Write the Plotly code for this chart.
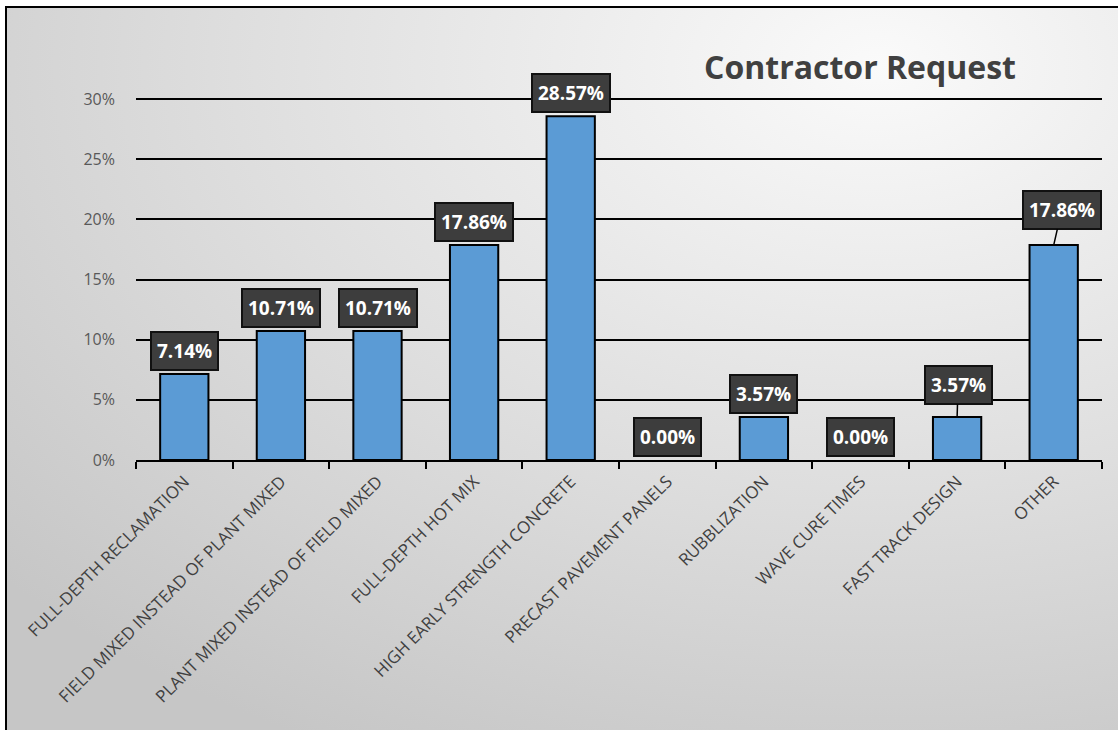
import base64
import plotly.graph_objects as go

categories = [
    'FULL-DEPTH RECLAMATION',
    'FIELD MIXED INSTEAD OF PLANT MIXED',
    'PLANT MIXED INSTEAD OF FIELD MIXED',
    'FULL-DEPTH HOT MIX',
    'HIGH EARLY STRENGTH CONCRETE',
    'PRECAST PAVEMENT PANELS',
    'RUBBLIZATION',
    'WAVE CURE TIMES',
    'FAST TRACK DESIGN',
    'OTHER',
]
shares = [0.0714, 0.1071, 0.1071, 0.1786, 0.2857, 0.0, 0.0357, 0.0, 0.0357, 0.1786]
y_ticks = [0, 0.05, 0.1, 0.15, 0.2, 0.25, 0.3]
title_text = 'Contractor Request'

# plot area in pixels (1118 x 730 page); top edge sits a bit above 30%
# so that the 30% gridline is still drawn
W, H = 1118, 730
L, R, T, B = 136, 1102, 96, 460
pw, ph = R - L, B - T
y_top = 0.3 * ph / (B - 99)

def px_x(x):
    return (x - L) / pw

def px_y(y):
    return (B - y) / ph

# soft radial background like the office chart style
svg = f'''<svg xmlns="http://www.w3.org/2000/svg" width="{W}" height="{H}">
<defs><radialGradient id="g" cx="0.78" cy="0.08" r="1.05">
<stop offset="0" stop-color="#fafafa"/><stop offset="0.55" stop-color="#dedede"/>
<stop offset="1" stop-color="#c6c6c6"/></radialGradient></defs>
<rect width="{W}" height="{H}" fill="url(#g)"/></svg>'''
bg_uri = 'data:image/svg+xml;base64,' + base64.b64encode(svg.encode()).decode()

fig = go.Figure()
fig.add_trace(go.Bar(
    x=categories,
    y=shares,
    marker=dict(color='#5b9bd5',
                line=dict(color='#000000', width=[2 if v > 0 else 0 for v in shares])),
    width=0.5,
    hoverinfo='x+y',
))

label_font = dict(family='Open Sans', size=19, color='white')
for cat, v in zip(categories, shares):
    txt = f'<b>{v * 100:.2f}%</b>'
    common = dict(x=cat, y=v, text=txt, font=label_font, bgcolor='#3d3d3d',
                  bordercolor='#111111', borderwidth=2, borderpad=5)
    if cat == 'OTHER':
        fig.add_annotation(**common, showarrow=True, arrowhead=0, arrowwidth=1.5,
                           arrowcolor='black', ax=8, ay=-35, standoff=0)
    elif cat == 'FAST TRACK DESIGN':
        fig.add_annotation(**common, showarrow=True, arrowhead=0, arrowwidth=1.5,
                           arrowcolor='black', ax=1, ay=-32, standoff=0)
    else:
        fig.add_annotation(**common, showarrow=False, yanchor='bottom', yshift=3)

fig.add_annotation(
    text=f'<b>{title_text}</b>', x=px_x(860), y=px_y(66), xref='paper', yref='paper',
    showarrow=False, font=dict(family='Open Sans', size=32, color='#404040'),
    xanchor='center', yanchor='middle',
)

# outer frame
fig.add_shape(type='rect', xref='paper', yref='paper',
              x0=px_x(6), x1=px_x(1125), y0=px_y(7), y1=px_y(740),
              line=dict(color='black', width=2), layer='below')

fig.update_layout(
    width=W, height=H,
    margin=dict(l=L, r=W - R, t=T, b=H - B, autoexpand=False),
    paper_bgcolor='white',
    plot_bgcolor='rgba(0,0,0,0)',
    showlegend=False,
    bargap=0.5,
    images=[dict(source=bg_uri, xref='paper', yref='paper',
                 x=px_x(6), y=px_y(7), sizex=px_x(1125) - px_x(6), sizey=px_y(7) - px_y(740),
                 sizing='stretch', xanchor='left', yanchor='top', layer='below')],
    font=dict(family='Open Sans'),
)
fig.update_xaxes(
    type='category', tickson='boundaries', ticks='outside', ticklen=7,
    tickwidth=1.5, tickcolor='black', showline=True, linecolor='black', linewidth=2,
    tickangle=-45, tickfont=dict(family='Open Sans', size=17, color='#404040'),
    ticklabelstandoff=3, showgrid=False, automargin=False,
)
fig.update_yaxes(
    range=[0, y_top], tickvals=y_ticks,
    tickformat='.0%', showgrid=True,
    gridcolor='black', gridwidth=1.5, zeroline=False,
    tickfont=dict(family='Open Sans', size=16, color='#595959'),
    ticks='', ticklabelstandoff=20, automargin=False,
)

fig.write_html('out.html', config={'displayModeBar': False},
               post_script="document.body.style.margin='0';")
